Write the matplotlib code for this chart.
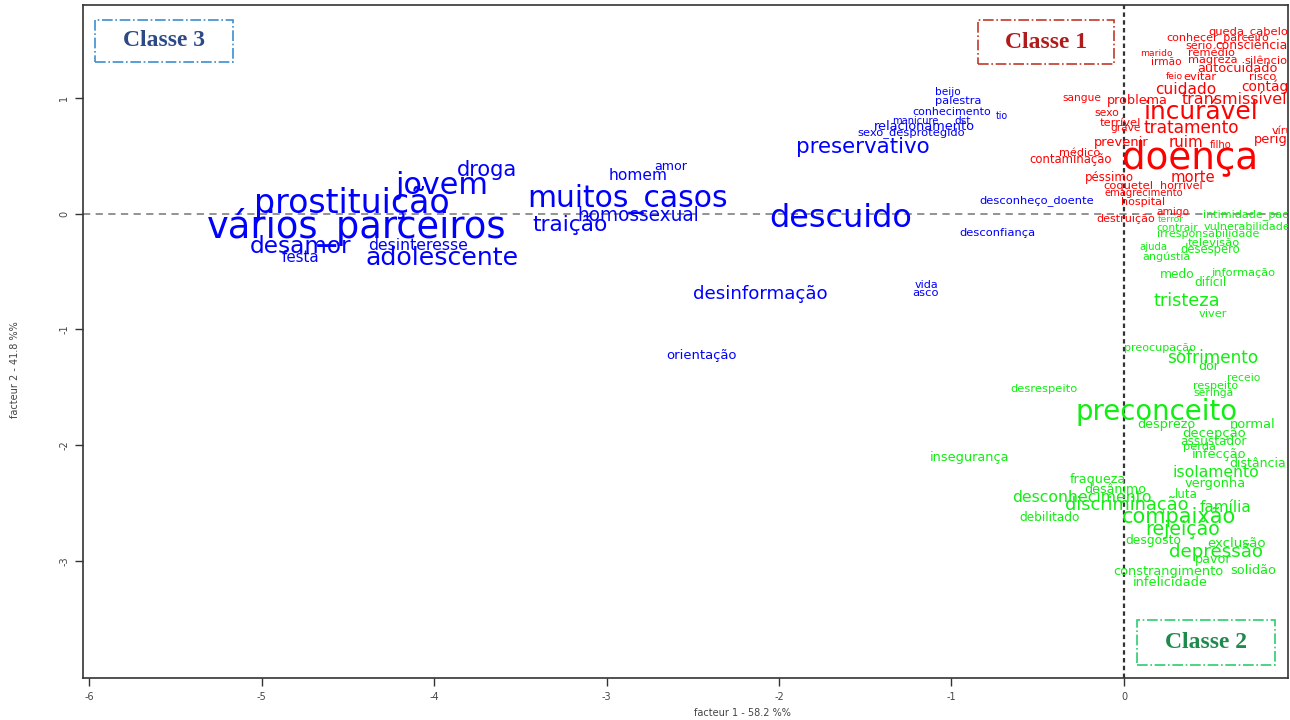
import matplotlib
matplotlib.use("Agg")
import matplotlib.pyplot as plt
from matplotlib.patches import Rectangle

plt.rcParams['font.family'] = ['DejaVu Sans']

# ---------------- Classe 3 (azul) ----------------
palavras_c3 = ["vários_parceiros", "prostituição", "jovem", "droga", "muitos_casos",
               "homossexual", "traição", "homem", "amor", "desamor", "desinteresse",
               "festa", "adolescente", "descuido", "preservativo", "desinformação",
               "orientação", "vida", "asco", "desconfiança", "desconheço_doente",
               "beijo", "palestra", "conhecimento", "tio", "manicure", "dst",
               "relacionamento", "sexo_desprotegido"]
fator1_c3 = [-4.446, -4.475, -3.954, -3.693, -2.875, -2.817, -3.212, -2.817, -2.626,
             -4.771, -4.093, -4.777, -3.954, -1.641, -1.513, -2.110, -2.452, -1.142,
             -1.148, -0.736, -0.504, -1.020, -0.962, -0.997, -0.707, -1.212, -0.933,
             -1.159, -1.235]
fator2_c3 = [-0.117, 0.091, 0.246, 0.376, 0.125, -0.013, -0.099, 0.324, 0.410,
             -0.281, -0.272, -0.384, -0.384, -0.039, 0.575, -0.695, -1.222, -0.618,
             -0.687, -0.168, 0.108, 1.050, 0.972, 0.877, 0.842, 0.799, 0.799,
             0.747, 0.695]
qui2_c3 = [56.4, 50.8, 46.4, 32.2, 45.6, 28.4, 33.2, 23.8, 19.4, 35.4, 24.2, 23.0,
           38.6, 48.8, 32.8, 28.0, 20.2, 17.0, 17.6, 17.6, 17.6, 16.0, 17.4, 16.8,
           14.6, 15.2, 16.0, 19.8, 17.6]

# ---------------- Classe 1 (vermelho) ----------------
palavras_c1 = ["queda_cabelo", "conhecer_parceiro", "sério", "consciência", "marido",
               "remédio", "irmão", "magreza", "silêncio", "autocuidado", "feio",
               "evitar", "risco", "cuidado", "contágio", "sangue", "problema",
               "transmissível", "sexo", "incurável", "terrível", "grave", "tratamento",
               "vírus", "perigo", "prevenir", "ruim", "filho", "médico", "contaminação",
               "doença", "péssimo", "morte", "coquetel", "horrível", "emagrecimento",
               "hospital", "amigo", "destruição"]
fator1_c1 = [0.719, 0.545, 0.435, 0.742, 0.186, 0.510, 0.243, 0.516, 0.823, 0.655,
             0.290, 0.441, 0.806, 0.359, 0.852, -0.243, 0.075, 0.638, -0.099, 0.446,
             -0.023, 0.012, 0.388, 0.933, 0.875, -0.017, 0.359, 0.562, -0.255, -0.307,
             0.383, -0.087, 0.400, 0.023, 0.330, 0.116, 0.110, 0.284, 0.012]
fator2_c1 = [1.568, 1.516, 1.447, 1.447, 1.378, 1.387, 1.309, 1.326, 1.317, 1.248,
             1.179, 1.179, 1.179, 1.067, 1.093, 0.998, 0.972, 0.981, 0.868, 0.877,
             0.782, 0.739, 0.739, 0.713, 0.635, 0.609, 0.609, 0.592, 0.523, 0.462,
             0.479, 0.315, 0.315, 0.238, 0.238, 0.177, 0.099, 0.013, -0.048]
qui2_c1 = [17.6, 17.0, 17.0, 19.0, 14.0, 17.4, 16.0, 17.4, 17.4, 19.8, 14.0, 17.4,
           17.6, 23.6, 21.0, 16.2, 19.6, 24.4, 16.6, 38.2, 17.6, 16.0, 26.0, 17.0,
           20.0, 20.0, 23.2, 15.4, 17.2, 17.8, 57.0, 18.0, 22.6, 17.6, 17.0, 15.4,
           17.0, 16.0, 17.0]

# ---------------- Classe 2 (verde) ----------------
palavras_c2 = ["intimidade_paciente", "terror", "contrair", "vulnerabilidade",
               "irresponsabilidade", "televisão",
               "ajuda", "desespero", "angústia", "medo", "informação", "difícil",
               "tristeza", "viver", "preocupação", "sofrimento", "dor", "receio",
               "respeito", "seringa", "desrespeito", "preconceito", "desprezo", "normal",
               "decepção", "assustador", "perda", "infecção", "distância", "insegurança",
               "isolamento", "fraqueza", "vergonha", "desânimo", "luta",
               "desconhecimento", "discriminação", "família", "compaixão", "debilitado",
               "rejeição", "desgosto", "exclusão", "depressão", "pavor",
               "constrangimento", "solidão", "infelicidade"]
fator1_c2 = [0.788, 0.272, 0.307, 0.713, 0.487, 0.522, 0.168, 0.499, 0.249, 0.307, 0.696,
             0.499, 0.365, 0.516, 0.209, 0.516, 0.493, 0.696, 0.533, 0.522, -0.464,
             0.191, 0.243, 0.748, 0.522, 0.516, 0.435, 0.551, 0.777, -0.893, 0.533,
             -0.151, 0.528, -0.052, 0.359, -0.243, 0.017, 0.591, 0.319, -0.429, 0.342,
             0.168, 0.655, 0.533, 0.516, 0.255, 0.748, 0.267]
fator2_c2 = [-0.013, -0.056, -0.125, -0.117, -0.177, -0.255, -0.289, -0.307, -0.376, -0.523,
             -0.514, -0.592, -0.756, -0.868, -1.162, -1.248, -1.317, -1.421, -1.490,
             -1.551, -1.516, -1.715, -1.819, -1.819, -1.896, -1.965, -2.017, -2.078,
             -2.156, -2.104, -2.233, -2.294, -2.328, -2.380, -2.423, -2.449, -2.518,
             -2.536, -2.622, -2.622, -2.726, -2.821, -2.847, -2.924, -2.985, -3.089,
             -3.080, -3.184]
qui2_c2 = [17.0, 14.0, 16.0, 17.0, 17.0, 17.6, 15.6, 17.8, 17.0, 18.8, 17.4, 18.6, 27.2,
           17.4, 17.0, 25.8, 19.2, 16.4, 17.0, 16.4, 17.6, 42.2, 19.6, 20.0, 20.2,
           18.4, 17.4, 19.8, 19.2, 19.8, 24.0, 19.6, 19.8, 19.4, 18.0, 24.2, 27.2,
           23.4, 32.0, 18.6, 29.0, 19.0, 20.6, 28.0, 19.6, 19.8, 19.8, 19.8]

classes = [
    (palavras_c3, fator1_c3, fator2_c3, qui2_c3, "#0000ff"),
    (palavras_c1, fator1_c1, fator2_c1, qui2_c1, "#ff0000"),
    (palavras_c2, fator1_c2, fator2_c2, qui2_c2, "#11ee11"),
]
ESCALA = 0.47  # tamanho da fonte proporcional ao qui2

W, H = 1290, 720
fig = plt.figure(figsize=(W / 100, H / 100), dpi=100)
ax = fig.add_axes([83 / W, 42 / H, 1205 / W, 673 / H])
ax.set_xlim(-6.035, 0.951)
ax.set_ylim(-4.01, 1.80)

ax.axhline(0, color="#8a8a8a", lw=1.3, ls=(0, (4, 3)), zorder=1)
ax.axvline(0, color="#333333", lw=1.6, ls=(0, (2, 1.5)), zorder=1)

for palavras, fx, fy, q, cor in classes:
    for w, x, y, v in zip(palavras, fx, fy, q):
        ax.text(x, y, w, color=cor, fontsize=ESCALA * v, ha="center", va="center",
                clip_on=True, zorder=3)

ax.set_xticks(range(-6, 1))
ax.set_xticklabels([str(v) for v in range(-6, 1)])
ax.set_yticks(range(-3, 2))
ax.set_yticklabels([str(v) for v in range(-3, 2)], rotation=90, va="center")
ax.tick_params(direction="out", length=6, width=1, labelsize=7, colors="#333333",
               labelcolor="#444444", pad=4)
for s in ax.spines.values():
    s.set_linewidth(1.2)
    s.set_color("#333333")

fig.text(742 / W, 1 - 713 / H, "facteur 1 - 58.2 %%", ha="center", va="center",
         fontsize=7, color="#444444")
fig.text(15 / W, 1 - 370 / H, "facteur 2 - 41.8 %%", ha="center", va="center",
         fontsize=7, color="#444444", rotation=90)


def caixa(x0, y0, x1, y1, rotulo, cor_borda, cor_texto):
    fig.patches.append(Rectangle((x0 / W, 1 - y1 / H), (x1 - x0) / W, (y1 - y0) / H,
                                 transform=fig.transFigure, fill=False,
                                 ec=cor_borda, lw=1.2, ls="-."))
    fig.text((x0 + x1) / 2 / W, 1 - (y0 + y1) / 2 / H, rotulo, ha="center", va="center",
             fontsize=17, fontweight="bold", family="Liberation Serif", color=cor_texto)


caixa(95, 20, 233, 62, "Classe 3", "#3b8fd0", "#2c4a86")
caixa(978, 20, 1114, 64, "Classe 1", "#c0392b", "#b01c1c")
caixa(1137, 620, 1275, 665, "Classe 2", "#2ecc71", "#1e8a4c")

fig.savefig("out.png", dpi=100)
